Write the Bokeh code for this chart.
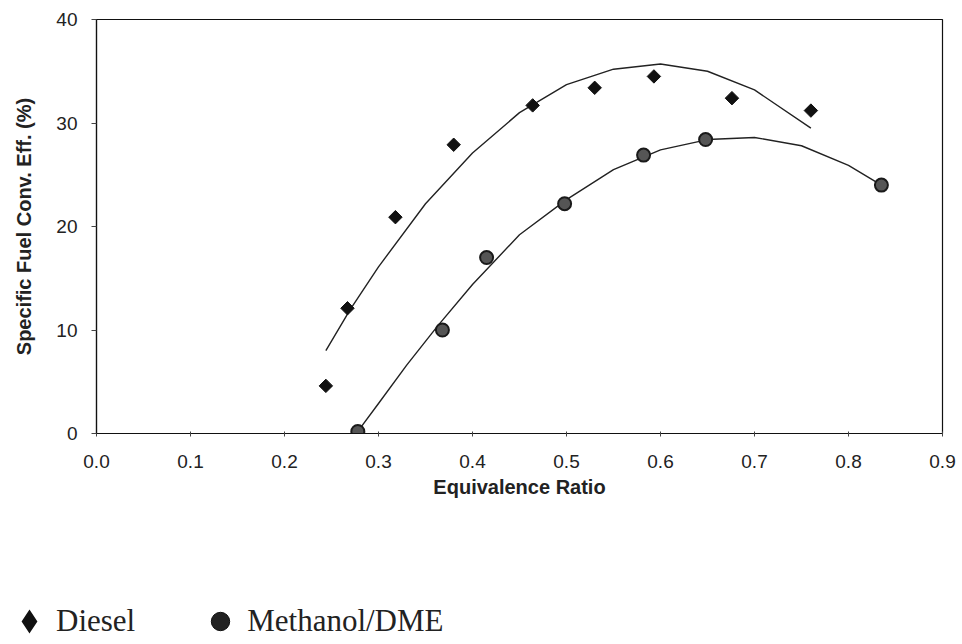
import math
from bokeh.plotting import figure
from bokeh.layouts import column
from bokeh.models import ColumnDataSource, Range1d, FixedTicker, NumeralTickFormatter, Legend, LegendItem
from bokeh.embed import file_html
from bokeh.resources import INLINE

# Measured data points
diesel_x = [0.244, 0.267, 0.318, 0.380, 0.464, 0.530, 0.593, 0.676, 0.760]
diesel_y = [4.6, 12.1, 20.9, 27.9, 31.7, 33.4, 34.5, 32.4, 31.2]
meth_x = [0.278, 0.368, 0.415, 0.498, 0.582, 0.648, 0.835]
meth_y = [0.2, 10.0, 17.0, 22.2, 26.9, 28.4, 24.0]

# Trend lines
diesel_fit_x = [0.244, 0.27, 0.30, 0.35, 0.40, 0.45, 0.50, 0.55, 0.60, 0.65, 0.70, 0.76]
diesel_fit_y = [8.0, 12.0, 16.1, 22.2, 27.1, 31.0, 33.7, 35.2, 35.7, 35.0, 33.2, 29.5]
meth_fit_x = [0.278, 0.30, 0.33, 0.363, 0.40, 0.45, 0.50, 0.55, 0.60, 0.65, 0.70, 0.75, 0.80, 0.835]
meth_fit_y = [0.2, 2.9, 6.6, 10.4, 14.4, 19.2, 22.6, 25.5, 27.4, 28.4, 28.6, 27.8, 25.9, 24.0]

x_ticks = [0.0, 0.1, 0.2, 0.3, 0.4, 0.5, 0.6, 0.7, 0.8, 0.9]
y_ticks = [0, 10, 20, 30, 40]
series_names = ["Diesel", "Methanol/DME"]

p = figure(width=962, height=530, output_backend="svg", toolbar_location=None,
           x_range=Range1d(0, 0.9), y_range=Range1d(0, 40),
           min_border_left=96, min_border_right=20, min_border_top=19, min_border_bottom=97)
p.background_fill_color = "white"
p.border_fill_color = "white"
p.outline_line_color = "#111111"
p.outline_line_width = 1.2
p.grid.visible = False

p.xaxis.ticker = FixedTicker(ticks=x_ticks)
p.yaxis.ticker = FixedTicker(ticks=y_ticks)
p.xaxis.formatter = NumeralTickFormatter(format="0.0")
p.xaxis.axis_label = "Equivalence Ratio"
p.yaxis.axis_label = "Specific Fuel Conv. Eff. (%)"
for ax in (p.xaxis, p.yaxis):
    ax.axis_line_color = "#111111"
    ax.axis_line_width = 1.2
    ax.major_tick_line_color = "#444444"
    ax.minor_tick_line_color = None
    ax.major_label_text_font = "Liberation Sans"
    ax.major_label_text_font_size = "19px"
    ax.major_label_text_color = "#222222"
    ax.axis_label_text_font = "Liberation Sans"
    ax.axis_label_text_font_style = "bold"
    ax.axis_label_text_color = "#222222"
p.xaxis.major_tick_out = 3
p.xaxis.major_tick_in = 2
p.yaxis.major_tick_out = 5
p.yaxis.major_tick_in = 0
p.xaxis.major_label_standoff = 18
p.xaxis.axis_label_standoff = 5
p.xaxis.axis_label_text_font_size = "20px"
p.yaxis.major_label_standoff = 14
p.yaxis.axis_label_standoff = 18
p.yaxis.axis_label_text_font_size = "20px"

p.line(diesel_fit_x, diesel_fit_y, line_color="#222222", line_width=1.4)
p.line(meth_fit_x, meth_fit_y, line_color="#222222", line_width=1.4)

p.scatter(diesel_x, diesel_y, marker="square", angle=math.pi / 4, size=9.5,
          fill_color="#111111", line_color="#111111")
p.scatter(meth_x, meth_y, marker="circle", size=13, fill_color="#555555",
          line_color="#1a1a1a", line_width=2)

# Legend panel below the chart
p2 = figure(width=962, height=114, output_backend="svg", toolbar_location=None,
            x_range=Range1d(0, 1), y_range=Range1d(0, 1),
            x_axis_type=None, y_axis_type=None,
            min_border_left=0, min_border_right=0, min_border_top=0, min_border_bottom=0)
p2.outline_line_color = None
p2.grid.visible = False
p.frame_align = False
p2.frame_align = False
# legend proxies: one non-drawn (NaN) point each so the legend can style its symbol
proxy = ColumnDataSource(data=dict(x=[float("nan")], y=[float("nan")]))
leg_d = p2.scatter("x", "y", source=proxy, marker="diamond", fill_color="#111111",
                   line_color="#111111", line_width=3, line_join="miter")
leg_c = p2.scatter("x", "y", source=proxy, marker="circle", fill_color="#222222", line_color="#111111")

legend = Legend(items=[LegendItem(label=series_names[0], renderers=[leg_d]),
                       LegendItem(label=series_names[1], renderers=[leg_c])],
                orientation="horizontal", location=(6, 0),
                label_text_font="Liberation Serif", label_text_font_size="31px",
                label_text_color="#222222", glyph_width=46, glyph_height=46,
                label_standoff=4, spacing=62, padding=0, margin=0,
                border_line_color=None, background_fill_alpha=0)
p2.add_layout(legend, "center")

open("out.html", "w").write(file_html(column(p, p2, spacing=0), INLINE))
